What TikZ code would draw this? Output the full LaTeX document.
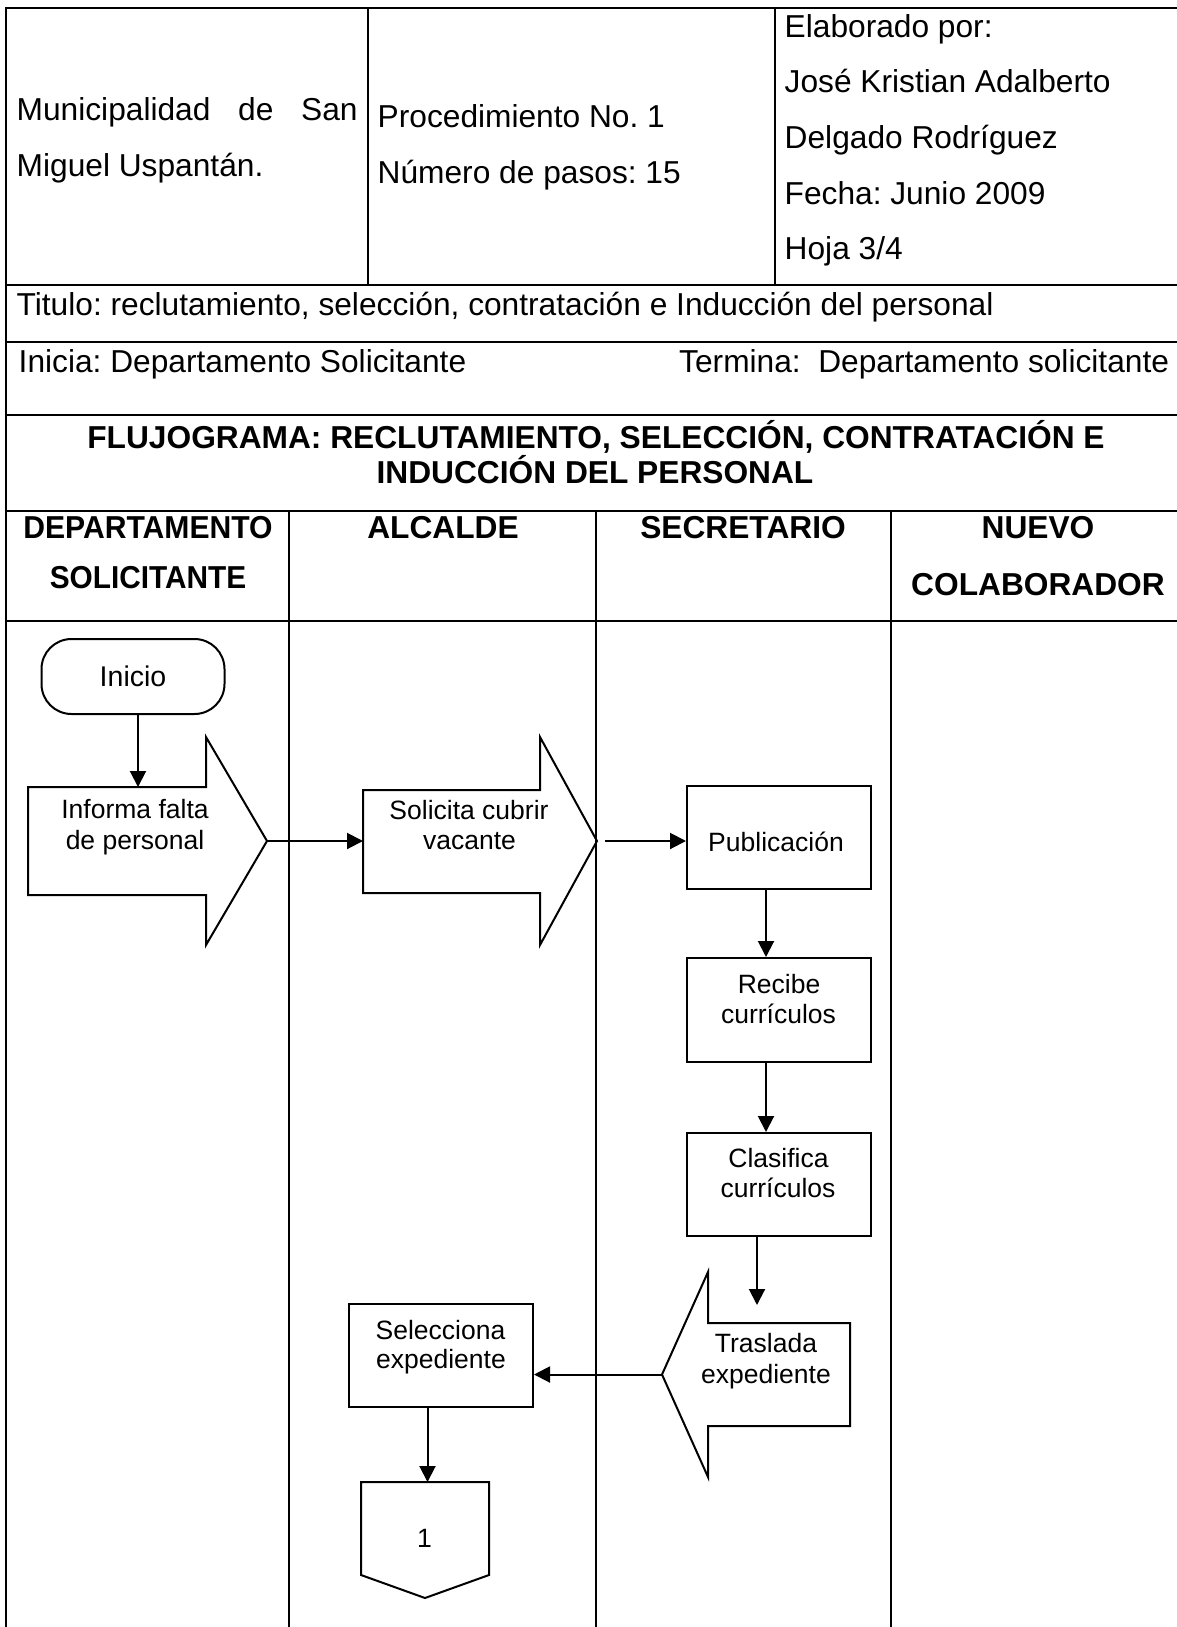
\documentclass[tikz,border=0pt]{standalone}
\usepackage{fontspec}
\usepackage{graphicx}
\setmainfont{Liberation Sans}
\usetikzlibrary{arrows.meta}
\frenchspacing

\begin{document}
\begin{tikzpicture}[x=1pt,y=-1pt,
  grid/.style={line width=1.6pt},
  box/.style={draw, line width=2pt, minimum width=184pt, minimum height=103pt, inner sep=0pt},
  shapeline/.style={draw, line width=2pt, line join=miter},
  flow/.style={line width=2pt, -{Triangle[length=16pt,width=16pt]}},
  hdr/.style={font=\fontsize{31.7}{38}\selectfont, inner sep=0pt, anchor=base west},
  boldtxt/.style={font=\fontsize{31.7}{38}\selectfont\bfseries, inner sep=0pt, anchor=base},
  lbl/.style={font=\fontsize{26.5}{30}\selectfont, inner sep=0pt, anchor=base},
]
\useasboundingbox (0,0) rectangle (1177,1627);

% ---------- table frame ----------
\begin{scope}
\clip (0,0) rectangle (1177,1627);
\draw[grid] (6,1640) -- (6,8) -- (1185,8) -- (1185,1640);
\foreach \yy in {285,342,415,511,621}
  \draw[grid] (6,\yy) -- (1185,\yy);
\draw[grid] (368,8) -- (368,285);
\draw[grid] (775,8) -- (775,285);
\foreach \xx in {289,596,891}
  \draw[grid] (\xx,511) -- (\xx,1640);
\end{scope}

% ---------- header texts ----------
\node[hdr] (muni1) at (16.5,121) {\hbox to 341pt{Municipalidad\hfill de\hfill San}};
\node[hdr] (muni2) at (16.5,176) {Miguel Uspantán.};
\node[hdr] (proc1) at (377.5,128) {Procedimiento No. 1};
\node[hdr] (proc2) at (377.5,183) {Número de pasos: 15};
\node[hdr] (elab1) at (784.5,38) {Elaborado por:};
\node[hdr] (elab2) at (784.5,93) {José Kristian Adalberto};
\node[hdr] (elab3) at (784.5,148) {Delgado Rodríguez};
\node[hdr] (elab4) at (784.5,204) {Fecha: Junio 2009};
\node[hdr] (elab5) at (784.5,259) {Hoja 3/4};
\node[hdr] (titulo) at (16.5,315) {Titulo: reclutamiento, selección, contratación e Inducción del personal};
\node[hdr] (inicia) at (18.5,372) {Inicia: Departamento Solicitante};
\node[hdr] (termina) at (679,372) {Termina:\ \ Departamento solicitante};

\node[boldtxt] (flujo1) at (596,448) {FLUJOGRAMA: RECLUTAMIENTO, SELECCIÓN, CONTRATACIÓN E};
\node[boldtxt] (flujo2) at (595,483) {INDUCCIÓN DEL PERSONAL};

\node[boldtxt] (lane1a) at (148,538) {\scalebox{0.95}[1]{DEPARTAMENTO}};
\node[boldtxt] (lane1b) at (148,588) {\scalebox{0.94}[1]{SOLICITANTE}};
\node[boldtxt] (lane2) at (443,538) {ALCALDE};
\node[boldtxt] (lane3) at (743,538) {SECRETARIO};
\node[boldtxt] (lane4a) at (1038,538) {NUEVO};
\node[boldtxt] (lane4b) at (1038,595) {COLABORADOR};

% ---------- flow shapes ----------
\node[draw, line width=2pt, rounded corners=30pt, minimum width=183pt, minimum height=75pt,
      inner sep=0pt, font=\fontsize{28.5}{30}\selectfont] (inicio) at (133,676.5) {Inicio};

% Informa falta de personal (block arrow to the right)
\draw[shapeline] (28,787) -- (206,787) -- (206,737) -- (267,841) -- (206,945) -- (206,895) -- (28,895) -- cycle;
\coordinate (infTop) at (138,787);
\coordinate (infTip) at (267,841);
\node[lbl] (inf1) at (135,818) {Informa falta};
\node[lbl] (inf2) at (135,849) {de personal};

% Solicita cubrir vacante (block arrow to the right)
\draw[shapeline] (363,790) -- (540,790) -- (540,737) -- (597,841) -- (540,945) -- (540,893) -- (363,893) -- cycle;
\coordinate (solLeft) at (363,841);
\coordinate (solTip) at (597,841);
\node[lbl] (sol1) at (469,819) {Solicita cubrir};
\node[lbl] (sol2) at (469.5,849) {vacante};

% Secretario boxes
\node[box] (pub) at (779,837.5) {};
\node[lbl] (pubT) at (776,851) {Publicación};
\node[box, minimum height=104pt] (rec) at (779,1010) {};
\node[lbl] (rec1) at (779,993) {Recibe};
\node[lbl] (rec2) at (778.5,1023) {currículos};
\node[box] (cla) at (779,1184.5) {};
\node[lbl] (cla1) at (778.5,1167) {Clasifica};
\node[lbl] (cla2) at (778,1197) {currículos};

% Traslada expediente (block arrow to the left)
\draw[shapeline] (850,1323) -- (708,1323) -- (708,1272) -- (662,1374.5) -- (708,1477) -- (708,1426) -- (850,1426) -- cycle;
\coordinate (traTop) at (757,1305);
\coordinate (traTip) at (662,1374.5);
\node[lbl] (tra1) at (766,1352) {Traslada};
\node[lbl] (tra2) at (766,1383) {expediente};

% Selecciona expediente
\node[box] (sel) at (441,1355.5) {};
\node[lbl] (sel1) at (440.5,1339) {Selecciona};
\node[lbl] (sel2) at (441,1368) {expediente};

% Off-page connector
\draw[shapeline] (361,1482) -- (489,1482) -- (489,1575) -- (425,1598) -- (361,1575) -- cycle;
\coordinate (conTop) at (427.5,1482);
\node[lbl] (con) at (424.5,1547) {1};

% ---------- connectors ----------
\draw[flow] ([xshift=5pt]inicio.south) -- (infTop);
\draw[flow] (infTip) -- (solLeft);
\draw[flow] ([xshift=8pt]solTip) -- (solTip -| pub.west);
\draw[flow] ([xshift=-13pt]pub.south) -- ([xshift=-13pt]rec.north);
\draw[flow] ([xshift=-13pt]rec.south) -- ([xshift=-13pt]cla.north);
\draw[flow] (cla.south -| traTop) -- (traTop);
\draw[flow] (traTip) -- (traTip -| sel.east);
\draw[flow] ([xshift=-13.5pt]sel.south) -- (conTop);
\end{tikzpicture}
\end{document}
